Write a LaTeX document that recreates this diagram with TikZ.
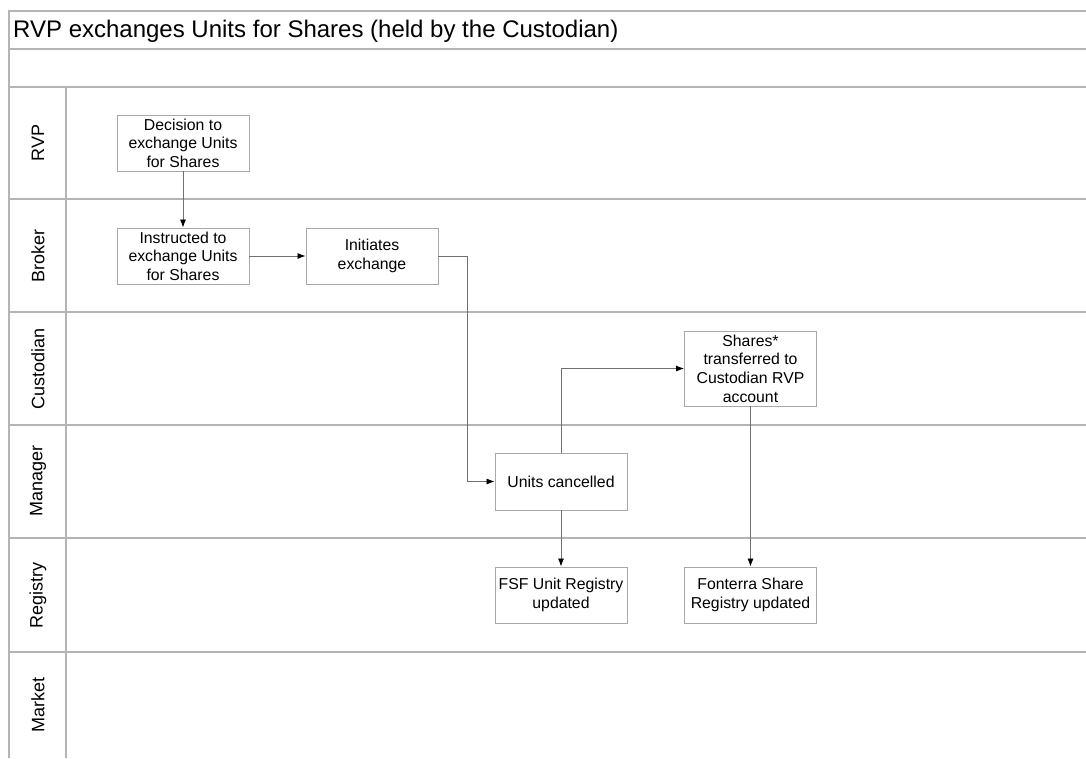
\documentclass[tikz,border=0pt]{standalone}
\usepackage{fontspec}
\setmainfont{Liberation Sans}
\usetikzlibrary{arrows.meta}
\definecolor{lanegray}{HTML}{B4B4B4}
\definecolor{boxgray}{HTML}{A8A8A8}
\definecolor{wiregray}{HTML}{707070}
\begin{document}
\begin{tikzpicture}[x=1pt,y=-1pt,
  lane/.style={draw=lanegray,line width=1.2pt},
  task/.style={draw=boxgray,line width=0.9pt,fill=white,minimum width=132pt,minimum height=56pt,
    align=center,font=\fontsize{15.8}{18.6}\selectfont,inner sep=1pt},
  lanelabel/.style={rotate=90,font=\fontsize{18}{20}\selectfont},
  flow/.style={draw=wiregray,line width=0.8pt,-{Latex[length=8pt,width=6pt,fill=black,color=black]}}]
\useasboundingbox (0,0) rectangle (1086,758);
% pool frame
\draw[lane] (1086,11) -- (9,11) -- (9,758);
\draw[lane] (9,49) -- (1086,49);
\draw[lane] (9,87) -- (1086,87);
\foreach \y in {199,312,425,538,652} \draw[lane] (9,\y) -- (1086,\y);
\draw[lane] (66,87) -- (66,758);
% title
\node[anchor=west,font=\fontsize{24}{28}\selectfont,inner sep=0pt] (title) at (13,31) {RVP exchanges Units for Shares (held by the Custodian)};
% lane labels
\node[lanelabel] (lRVP) at (38,143) {RVP};
\node[lanelabel] (lBroker) at (38,256) {Broker};
\node[lanelabel] (lCust) at (38,369) {Custodian};
\node[lanelabel] (lMgr) at (38,481) {Manager};
\node[lanelabel] (lReg) at (38,595) {Registry};
\node[lanelabel] (lMkt) at (38,705) {Market};
% tasks
\node[task] (decision) at (183,143) {Decision to\\exchange Units\\for Shares};
\node[task] (instructed) at (183,256) {Instructed to\\exchange Units\\for Shares};
\node[task] (initiates) at (372,256) {Initiates\\exchange};
\node[task,minimum height=75pt] (shares) at (750.5,368.5) {Shares*\\transferred to\\Custodian RVP\\account};
\node[task,minimum height=57pt] (cancel) at (561,481.5) {Units cancelled};
\node[task] (fsf) at (561,595) {FSF Unit Registry\\updated};
\node[task] (fonterra) at (750.5,595) {Fonterra Share\\Registry updated};
% flows
\draw[flow] (decision) -- (instructed);
\draw[flow] (instructed) -- (initiates);
\coordinate (bendA) at (467,256);
\draw[flow] (initiates.east) -- (bendA) |- (cancel.west);
\draw[flow] (cancel.north) |- (shares.west);
\draw[flow] (shares) -- (fonterra);
\draw[flow] (cancel) -- (fsf);
\end{tikzpicture}
\end{document}
